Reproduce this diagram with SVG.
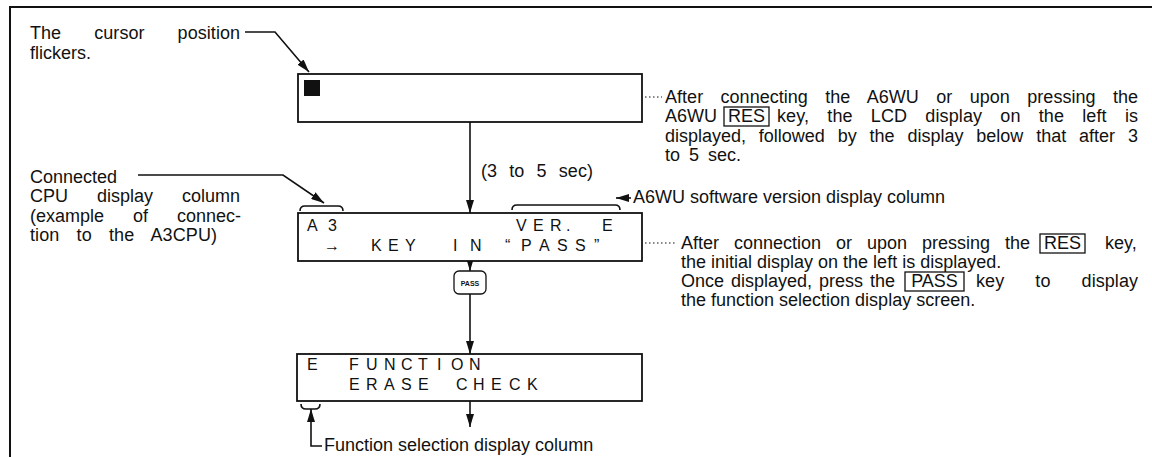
<svg xmlns="http://www.w3.org/2000/svg" width="1152" height="457" viewBox="0 0 1152 457">
<defs>
<marker id="ah" viewBox="0 0 13 8" refX="13" refY="4" markerWidth="13" markerHeight="8" markerUnits="userSpaceOnUse" orient="auto">
<path d="M0,0 L13,4 L0,8 Z" fill="#111"/>
</marker>
<style>
text{font-family:"Liberation Sans",Arial,sans-serif;fill:#111}
.t{font-size:18px}
.lcd{font-size:16px}
.box{fill:#fff;stroke:#111;stroke-width:1.8}
.ln{fill:none;stroke:#111;stroke-width:1.6}
.dot{fill:none;stroke:#111;stroke-width:1.2;stroke-dasharray:1.5 2.5}
.key{fill:#fff;stroke:#111;stroke-width:1.3}
</style>
</defs>
<rect width="1152" height="457" fill="#fff"/>
<g id="frame">
<path d="M10,457 L10,7 L1152,7" fill="none" stroke="#111" stroke-width="2"/>
</g>

<g id="connectors">
<polyline class="ln" points="245,32 275,32 309,72" marker-end="url(#ah)"/>
<line class="ln" x1="470" y1="122" x2="470" y2="213" marker-end="url(#ah)"/>
<line class="ln" x1="470" y1="261" x2="470" y2="271" marker-end="url(#ah)"/>
<line class="ln" x1="470" y1="294" x2="470" y2="354" marker-end="url(#ah)"/>
<line class="ln" x1="470" y1="401" x2="470" y2="427" marker-end="url(#ah)"/>
<polyline class="ln" points="138,175 283,175 324,203" marker-end="url(#ah)"/>
<line class="ln" x1="631" y1="198" x2="616" y2="198" marker-end="url(#ah)"/>
<polyline class="ln" points="322,446 311,446 311,409" marker-end="url(#ah)"/>
<line class="dot" x1="645" y1="97" x2="662" y2="97"/>
<line class="dot" x1="645" y1="243" x2="677" y2="243"/>
<path class="ln" d="M300,211 Q300,206 305,206 L338,206 Q343,206 343,211"/>
<path class="ln" d="M512,210 Q512,205 517,205 L615,205 Q620,205 620,210"/>
<path class="ln" d="M301,404 Q301,409 306,409 L315,409 Q320,409 320,404"/>
</g>

<g id="note-cursor">
<text class="t" x="30" y="39" word-spacing="28" textLength="210" lengthAdjust="spacing">The cursor position</text>
<text class="t" x="30" y="59">flickers.</text>
</g>

<g id="lcd-initial">
<rect class="box" x="298" y="74" width="344" height="48"/>
<rect x="304" y="80" width="16" height="16" fill="#111"/>
</g>

<g id="note-initial">
<text class="t" x="665" y="103" word-spacing="12.4" textLength="473" lengthAdjust="spacing">After connecting the A6WU or upon pressing the</text>
<text class="t" x="665" y="122">A6WU</text>
<rect class="key" x="724" y="107" width="45" height="19"/>
<text class="t" x="746.5" y="122" text-anchor="middle">RES</text>
<text class="t" x="777" y="122" word-spacing="13" textLength="361" lengthAdjust="spacing">key, the LCD display on the left is</text>
<text class="t" x="665" y="142" word-spacing="7.9" textLength="473" lengthAdjust="spacing">displayed, followed by the display below that after 3</text>
<text class="t" x="665" y="161" word-spacing="4">to 5 sec.</text>
</g>

<g id="delay-label">
<text class="t" x="481" y="177" word-spacing="7" textLength="112" lengthAdjust="spacing">(3 to 5 sec)</text>
</g>

<g id="note-cpu">
<text class="t" x="30" y="183">Connected</text>
<text class="t" x="30" y="202" word-spacing="24" textLength="210" lengthAdjust="spacing">CPU display column</text>
<text class="t" x="30" y="222" word-spacing="24" textLength="211" lengthAdjust="spacing">(example of connec-</text>
<text class="t" x="30" y="241" word-spacing="12" textLength="187" lengthAdjust="spacing">tion to the A3CPU)</text>
</g>

<g id="note-version">
<text class="t" x="633" y="203">A6WU software version display column</text>
</g>

<g id="lcd-keyin">
<rect class="box" x="298" y="213" width="344" height="48"/>
<text class="lcd" x="307 317 328" y="231">A 3</text>
<text class="lcd" x="516 533 550 566 580 602" y="231">VER. E</text>
<text class="lcd" x="324" y="251" font-size="20">→</text>
<text class="lcd" x="371 388 405 425 453 470 490 505 521 539 557 575 594" y="251">KEY IN “PASS”</text>
</g>

<g id="note-keyin">
<text class="t" x="681" y="249" word-spacing="10" textLength="349" lengthAdjust="spacing">After connection or upon pressing the</text>
<rect class="key" x="1040" y="234" width="45" height="19"/>
<text class="t" x="1062.5" y="249" text-anchor="middle">RES</text>
<text class="t" x="1105" y="249">key,</text>
<text class="t" x="681" y="268">the initial display on the left is displayed.</text>
<text class="t" x="681" y="287" word-spacing="2" textLength="214" lengthAdjust="spacing">Once displayed, press the</text>
<rect class="key" x="905" y="272" width="59" height="19"/>
<text class="t" x="934.5" y="287" text-anchor="middle">PASS</text>
<text class="t" x="976" y="287" word-spacing="26" textLength="162" lengthAdjust="spacing">key to display</text>
<text class="t" x="681" y="306">the function selection display screen.</text>
</g>

<g id="key-pass">
<rect class="key" x="454" y="271" width="32" height="23" rx="5"/>
<text x="470" y="285.5" text-anchor="middle" font-size="7" font-weight="bold">PASS</text>
</g>

<g id="lcd-function">
<rect class="box" x="297" y="354" width="345" height="47"/>
<text class="lcd" x="307 330 349 366 384 401 418 437 451 469" y="370">E FUNCTION</text>
<text class="lcd" x="349 366 384 401 418 437 456 473 491 509 527" y="390">ERASE CHECK</text>
</g>

<g id="note-function">
<text class="t" x="324" y="451">Function selection display column</text>
</g>
</svg>
